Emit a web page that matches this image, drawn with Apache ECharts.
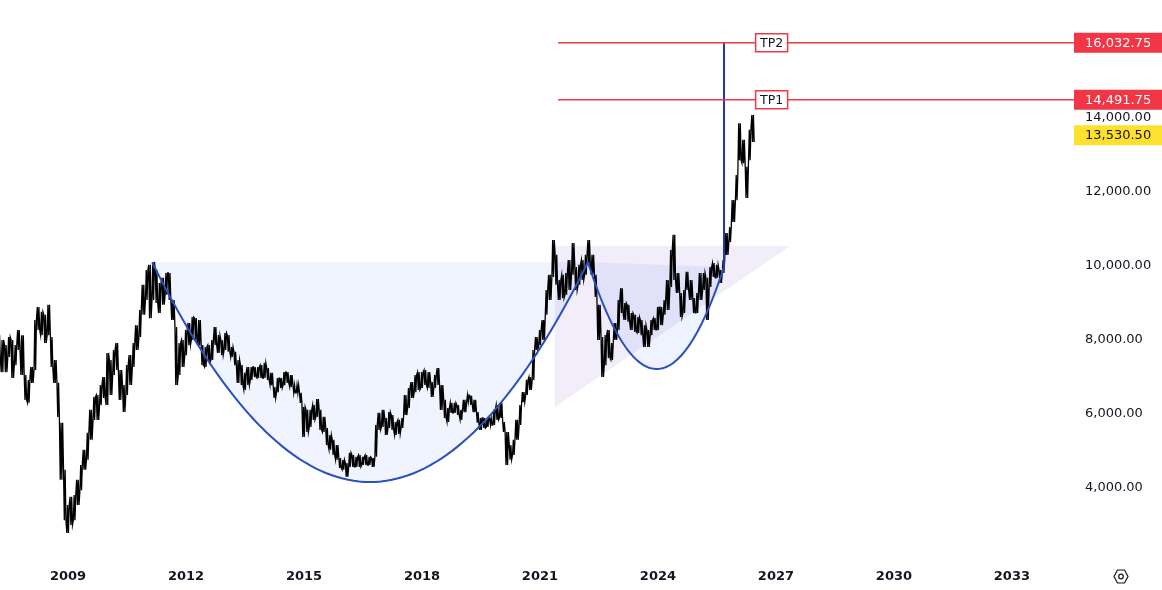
<!DOCTYPE html>
<html><head><meta charset="utf-8">
<script src="https://cdn.jsdelivr.net/npm/echarts@6/dist/echarts.min.js"></script>
<style>html,body{margin:0;padding:0;background:#fff}#c{width:1162px;height:590px}</style>
</head><body><div id="c"></div>
<script>
// ---- data (monthly high/low ranges, first bar = April 2007) ----
const startMonth = 2007.25;
const highs = [
 8130,8000,7860,8080,8000,7860,8270,8130,7050,6920,
 7270,8540,8890,8760,8680,8950,8080,7460,6840,5760,
 4490,3540,3760,3810,4220,4620,5030,5490,6110,6460,
 6510,6780,7000,7650,7460,7730,7920,7190,6780,7320,
 7590,7920,8400,8810,9490,9890,10030,10110,9890,9540,
 9680,9810,9810,9080,8350,7920,8000,8270,8460,8620,
 8590,8540,7860,7810,7860,8000,8350,8130,8000,8190,
 8130,7810,7680,7460,7320,7110,7270,7270,7270,7270,
 7320,7380,7240,7110,6730,6970,6970,7130,7130,7050,
 6780,6780,6570,6190,6110,6110,6240,6400,6110,5920,
 5620,5430,5300,5160,4810,4760,4670,4950,4890,4840,
 4890,4840,4890,4840,4810,5700,6030,6110,5890,6050,
 5970,5780,5840,5890,6510,6700,6860,7050,7130,7130,
 7190,7130,6860,7050,7240,6780,6380,6160,6300,6300,
 6240,6110,6380,6510,6490,6380,6050,5890,5890,5890,
 5890,6110,6240,6300,5780,5510,5160,5300,5840,6240,
 6590,6920,7000,7730,8080,8270,8540,9350,9760,10700,
 10300,9620,9760,9810,10160,10620,9970,10030,10160,10300,
 10700,10300,9760,8950,8080,8130,8270,7920,8460,9080,
 9400,9000,8950,8730,8680,8620,8540,8400,8270,8540,
 8590,8890,8890,9080,9620,10430,10840,9810,9270,9350,
 9840,9620,9130,9270,9810,9810,9680,9970,10080,10030,
 9890,10160,10890,11050,11780,12460,13860,13410,12680,13680,
 14080];
const lows = [
 7460,7130,7130,7540,6970,7320,7730,7050,6380,6300,
 6840,7190,8270,8130,7920,8130,7270,6840,5920,4220,
 3130,2780,3000,3130,3540,3940,4490,4760,5300,5840,
 5840,6240,6430,6240,6510,7050,7190,6380,6050,6510,
 6780,7270,7730,8080,8680,9080,8590,9080,9000,8730,
 8950,9220,9080,8540,6780,7050,7270,7590,7860,8000,
 8000,7860,7320,7270,7400,7460,7860,7650,7590,7730,
 7680,7540,7320,6840,6780,6650,6780,6920,7000,6970,
 6970,6970,6920,6780,6430,6590,6700,6780,6840,6730,
 6570,6570,6300,5380,5510,5650,5840,5920,5570,5510,
 5160,5030,4890,4760,4540,4490,4300,4570,4570,4570,
 4570,4620,4620,4620,4570,4840,5570,5650,5430,5620,
 5570,5430,5460,5620,5970,6160,6430,6590,6650,6700,
 6780,6700,6460,6700,6780,6110,5890,5780,6030,6030,
 5970,5840,6050,6320,6240,6050,5760,5570,5620,5650,
 5700,5700,5840,5890,5510,4620,4760,4890,5300,5700,
 6320,6510,6650,6920,7730,7860,8000,8680,9080,9700,
 9490,9080,9130,9220,9350,9760,9350,9490,9620,9760,
 10030,9760,9160,8000,7000,7320,7510,7460,8000,8270,
 8730,8540,8490,8270,8220,8190,8130,7810,7810,8130,
 8270,8270,8400,8680,8810,9430,9620,9270,8620,8730,
 9350,9080,8730,8730,9080,9350,8540,9430,9700,9680,
 9540,9810,10300,10650,11190,11780,12860,12780,11840,12860,
 13350];
const lastPrice = 13530.5;
const yearTicks = [2009,2012,2015,2018,2021,2024,2027,2030,2033];
const priceTicks = [4000,6000,8000,10000,12000,14000];
const tpLevels = [16032.75, 14491.75];
const tpNames = ['TP2','TP1'];
const tpLineStart = 2021.46;
const tpTagYear = 2026.89;
const cupAnchors = [[2011.14,10100],[2016.68,4160],[2022.22,10100]];     // start, bottom, end
const handleAnchors = [[2022.22,10100],[2023.95,7215],[2025.68,9970]];   // start, bottom, end
const wedge = [[2021.38,10540],[2027.36,10540],[2021.38,6190]];
const breakout = [[2025.68,9970],[2025.68,16032.75]];
const xMin = 2007.271, xMax = 2034.426, yMin = 2052, yMax = 17189;

const priceBars = highs.map((h,i)=>[startMonth + i/12, lows[i], h]);

function fmt(v){
  const s = v.toFixed(2); const [a,b] = s.split('.');
  return a.replace(/\B(?=(\d{3})+(?!\d))/g, ',') + '.' + b;
}
function quadPoints(a, api){
  const p0=api.coord(a[0]), pb=api.coord(a[1]), p2=api.coord(a[2]);
  const c=[2*pb[0]-(p0[0]+p2[0])/2, 2*pb[1]-(p0[1]+p2[1])/2];
  const pts=[];
  for(let k=0;k<=80;k++){const t=k/80,u=1-t;
    pts.push([u*u*p0[0]+2*u*t*c[0]+t*t*p2[0], u*u*p0[1]+2*u*t*c[1]+t*t*p2[1]]);}
  return pts;
}
const FONT = 'DejaVu Sans, Verdana, sans-serif';
const chart = echarts.init(document.getElementById('c'), null, {renderer:'canvas'});
const option = {
  animation:false,
  backgroundColor:'#ffffff',
  grid:{left:0,right:94,top:0,bottom:30},
  xAxis:{type:'value',min:xMin,max:xMax,axisLine:{show:false},axisTick:{show:false},splitLine:{show:false},
    axisLabel:{customValues:yearTicks,formatter:v=>String(Math.round(v)),color:'#131722',fontSize:13,fontWeight:'bold',fontFamily:FONT,margin:10}},
  yAxis:{type:'value',position:'right',min:yMin,max:yMax,scale:true,axisLine:{show:false},axisTick:{show:false},splitLine:{show:false},
    axisLabel:{customValues:priceTicks,formatter:fmt,color:'#131722',fontSize:13,fontFamily:FONT,margin:17,align:'left'}},
  graphic:[
    {type:'polygon',x:1114,y:570,shape:{points:[[3.5,0],[10.5,0],[14,6.5],[10.5,13],[3.5,13],[0,6.5]]},style:{fill:'none',stroke:'#131722',lineWidth:1.2}},
    {type:'circle',x:0,y:0,shape:{cx:1121,cy:576.5,r:2.3},style:{fill:'none',stroke:'#131722',lineWidth:1.2}}
  ],
  series:[
    {type:'custom',name:'fills',z:1,clip:true,data:[cupAnchors[1]],encode:{x:0,y:1},
      renderItem:(params,api)=>({type:'group',children:[
        {type:'polygon',shape:{points:wedge.map(p=>api.coord(p))},style:{fill:'rgba(149,117,205,0.13)'}},
        {type:'polygon',shape:{points:quadPoints(cupAnchors,api)},style:{fill:'rgba(41,98,255,0.07)'}},
        {type:'polygon',shape:{points:quadPoints(handleAnchors,api)},style:{fill:'rgba(41,98,255,0.08)'}}
      ]})},
    {type:'custom',name:'price',z:2,clip:true,data:[cupAnchors[1]],encode:{x:0,y:1},
      renderItem:(params,api)=>{
        const pts=[];
        priceBars.forEach((b,i)=>{
          const hi=api.coord([b[0],b[2]]), lo=api.coord([b[0],b[1]]);
          const x=hi[0];
          if(i%2===0){pts.push([x-1.2,hi[1]],[x-0.4,lo[1]],[x+0.4,hi[1]],[x+1.2,lo[1]]);}
          else{pts.push([x-1.2,lo[1]],[x-0.4,hi[1]],[x+0.4,lo[1]],[x+1.2,hi[1]]);}
        });
        return {type:'polyline',shape:{points:pts},style:{fill:null,stroke:'#000',lineWidth:1.3}};
      }},
    {type:'custom',name:'drawings',z:3,clip:true,data:[cupAnchors[1]],encode:{x:0,y:1},
      renderItem:(params,api)=>{
        const b0=api.coord(breakout[0]), b1=api.coord(breakout[1]);
        return {type:'group',children:[
          {type:'polyline',shape:{points:quadPoints(cupAnchors,api)},style:{fill:null,stroke:'#2C4FBE',lineWidth:2}},
          {type:'polyline',shape:{points:quadPoints(handleAnchors,api)},style:{fill:null,stroke:'#2C4FBE',lineWidth:2}},
          {type:'line',shape:{x1:b0[0],y1:b0[1],x2:b1[0],y2:b1[1]},style:{stroke:'#2038A8',lineWidth:2}}
        ]};
      }},
    {type:'custom',name:'levels',z:4,clip:false,data:[cupAnchors[1]],encode:{x:0,y:1},
      renderItem:(params,api)=>{
        const ch=[];
        const edge = api.coord([xMax, yMin])[0];
        tpLevels.forEach((lv,k)=>{
          const a=api.coord([tpLineStart,lv]), b=api.coord([xMax,lv]), t=api.coord([tpTagYear,lv]);
          ch.push({type:'line',shape:{x1:a[0],y1:a[1],x2:b[0]+6,y2:b[1]},style:{stroke:'#EC3B45',lineWidth:1.5}});
          ch.push({type:'rect',shape:{x:t[0]-16,y:t[1]-9,width:32,height:18},style:{fill:'#fff',stroke:'#EC3B45',lineWidth:1.5}});
          ch.push({type:'text',style:{text:tpNames[k],x:t[0],y:t[1]+0.5,align:'center',verticalAlign:'middle',fill:'#131722',font:'12.5px '+FONT}});
        });
        const boxes=[[tpLevels[0],'#F23645','#ffffff'],[tpLevels[1],'#F23645','#ffffff'],[lastPrice,'#FFE02E','#131722']];
        boxes.forEach(([lv,bg,fg])=>{
          const p=api.coord([xMax,lv]);
          ch.push({type:'rect',shape:{x:edge+6,y:p[1]-10,width:100,height:20},style:{fill:bg}});
          ch.push({type:'text',style:{text:fmt(lv),x:edge+17,y:p[1]+0.5,align:'left',verticalAlign:'middle',fill:fg,font:'13px '+FONT}});
        });
        return {type:'group',children:ch};
      }}
  ]
};
chart.setOption(option);
</script></body></html>
